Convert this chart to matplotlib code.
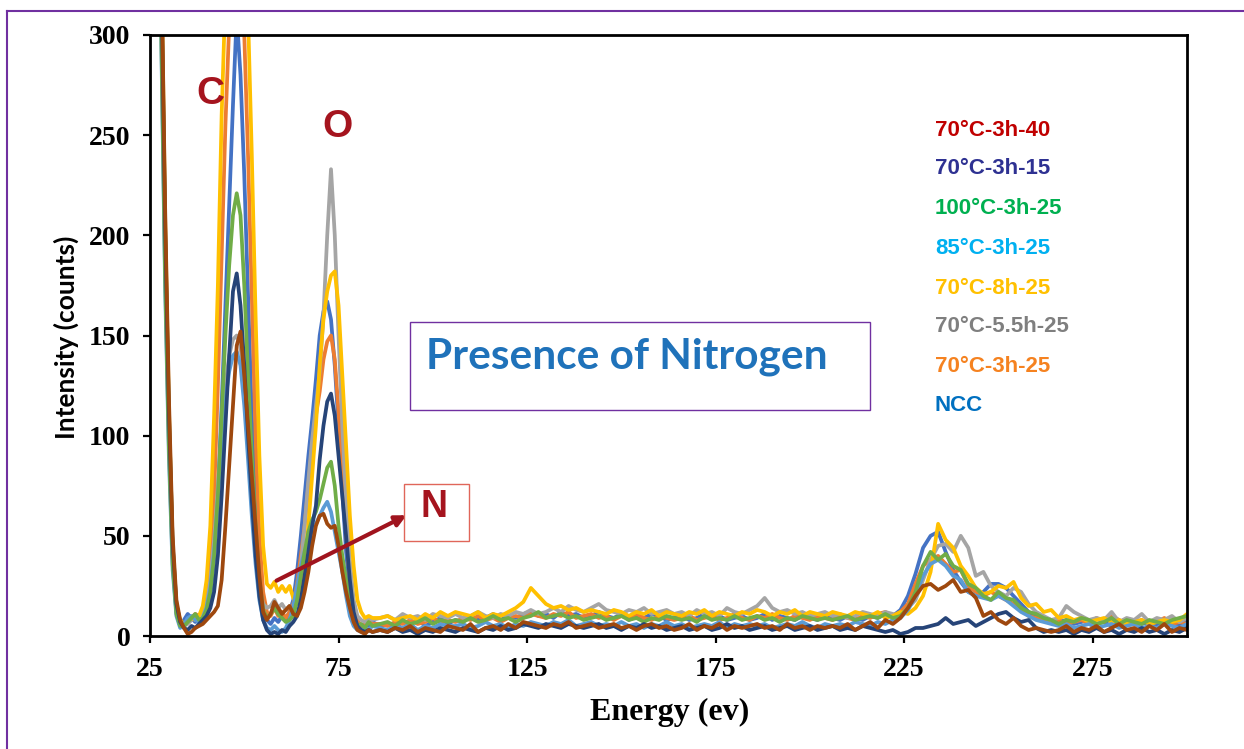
import numpy as np
import matplotlib
matplotlib.use('Agg')
import matplotlib.pyplot as plt
from matplotlib.patches import Rectangle
from matplotlib.lines import Line2D

#--------------------------------------------------------------------------------
# Du lieu doc tu hinh: nang luong (eV) va cuong do (counts)
# Doan 1: 26..84 eV, buoc 1 eV  (59 diem)
# Doan 2: 86..300 eV, buoc 2 eV (108 diem)
#--------------------------------------------------------------------------------
energy = np.concatenate([np.arange(26, 85), np.arange(86, 301, 2)])

ncc = [
    900, 620, 320, 200, 105, 40, 12, 5, 8, 11,
    9, 7, 8, 10, 12, 20, 38, 70, 115, 165,
    215, 265, 310, 280, 230, 170, 110, 60, 30, 14,
    8, 6, 9, 7, 10, 8, 12, 18, 32, 50,
    70, 90, 108, 128, 150, 162, 167, 158, 135, 105,
    72, 42, 22, 10, 5, 4, 6, 5, 7,
    5, 6, 4, 7, 6, 8, 5, 7, 9, 6,
    8, 7, 10, 8, 9, 11, 8, 10, 9, 11,
    12, 10, 11, 9, 12, 10, 11, 9, 10, 12,
    10, 9, 11, 8, 10, 9, 11, 10, 8, 9,
    10, 8, 9, 11, 9, 10, 8, 9, 10, 8,
    9, 11, 8, 10, 9, 8, 10, 9, 8, 10,
    9, 8, 10, 9, 8, 10, 9, 11, 10, 13,
    20, 31, 44, 50, 52, 42, 33, 27, 22, 20,
    22, 26, 26, 24, 20, 16, 12, 10, 9, 8,
    7, 8, 6, 7, 8, 6, 7, 5, 7, 6,
    8, 6, 7, 5, 6, 7, 5, 8]

t70_3h_25 = [
    880, 610, 320, 195, 105, 42, 14, 6, 5, 7,
    9, 11, 10, 12, 18, 35, 70, 125, 190, 255,
    305, 335, 345, 330, 300, 240, 170, 100, 50, 22,
    12, 10, 14, 10, 12, 9, 12, 16, 26, 40,
    55, 75, 95, 110, 122, 138, 147, 150, 138, 112,
    82, 52, 28, 14, 8, 5, 6, 7, 6,
    6, 5, 7, 6, 8, 6, 7, 9, 7, 8,
    7, 9, 8, 10, 8, 9, 7, 9, 10, 9,
    11, 10, 9, 11, 10, 12, 9, 10, 11, 9,
    10, 8, 10, 9, 11, 9, 8, 10, 9, 8,
    9, 10, 8, 9, 10, 8, 9, 11, 9, 8,
    10, 9, 11, 9, 8, 10, 9, 8, 10, 9,
    8, 10, 9, 8, 10, 9, 11, 12, 10, 12,
    16, 26, 35, 38, 40, 36, 32, 33, 25, 22,
    20, 22, 20, 18, 16, 14, 10, 9, 8, 7,
    8, 6, 7, 8, 6, 9, 7, 10, 8, 6,
    7, 8, 6, 7, 9, 6, 7, 6]

t70_55h_25 = [
    890, 620, 325, 200, 108, 42, 13, 6, 5, 6,
    8, 9, 8, 11, 16, 28, 48, 75, 100, 125,
    140, 148, 150, 145, 125, 95, 65, 40, 24, 16,
    14, 15, 18, 14, 16, 13, 15, 12, 20, 35,
    55, 78, 98, 115, 132, 160, 200, 233, 200, 150,
    105, 68, 38, 18, 10, 8, 7, 9, 8,
    9, 10, 8, 11, 9, 10, 8, 11, 10, 9,
    11, 9, 10, 12, 10, 9, 11, 10, 12, 11,
    13, 11, 12, 14, 12, 15, 13, 12, 14, 16,
    13, 12, 11, 13, 12, 14, 11, 12, 13, 11,
    12, 10, 13, 11, 12, 10, 14, 12, 11, 13,
    15, 19, 14, 12, 13, 11, 12, 10, 11, 12,
    10, 11, 9, 10, 12, 11, 10, 12, 11, 10,
    14, 18, 28, 38, 45, 46, 42, 50, 44, 30,
    32, 25, 22, 20, 24, 22, 16, 12, 10, 8,
    9, 15, 12, 10, 8, 9, 8, 12, 7, 9,
    8, 11, 7, 9, 8, 10, 7, 9]

t70_8h_25 = [
    900, 640, 340, 210, 115, 45, 15, 8, 6, 8,
    9, 8, 10, 15, 28, 55, 110, 175, 260, 320,
    370, 400, 410, 395, 360, 310, 240, 160, 90, 45,
    26, 24, 27, 22, 25, 22, 25, 19, 16, 20,
    35, 55, 80, 105, 135, 158, 172, 180, 182, 165,
    130, 95, 60, 35, 18, 12, 9, 10, 9,
    9, 10, 8, 9, 10, 8, 11, 9, 12, 10,
    12, 11, 10, 12, 9, 11, 10, 12, 14, 17,
    24, 20, 16, 14, 15, 13, 14, 12, 13, 12,
    11, 13, 12, 10, 12, 11, 13, 10, 12, 11,
    10, 12, 11, 13, 10, 12, 11, 10, 12, 11,
    13, 12, 10, 12, 11, 13, 10, 12, 11, 10,
    12, 11, 10, 12, 11, 10, 12, 9, 10, 12,
    11, 14, 20, 32, 56, 48, 44, 35, 30, 24,
    21, 22, 25, 24, 27, 19, 15, 16, 12, 13,
    9, 10, 8, 9, 7, 8, 9, 7, 8, 6,
    7, 8, 6, 7, 8, 7, 8, 11]

t85_3h_25 = [
    860, 580, 295, 175, 90, 33, 10, 4, 6, 9,
    10, 8, 7, 9, 14, 24, 42, 68, 95, 118,
    132, 140, 142, 135, 115, 88, 60, 36, 18, 8,
    4, 3, 5, 3, 2, 4, 8, 15, 25, 35,
    42, 48, 52, 56, 60, 64, 67, 62, 52, 42,
    32, 20, 10, 5, 3, 2, 4, 3, 5,
    4, 3, 5, 4, 6, 3, 5, 4, 6, 5,
    5, 6, 4, 5, 7, 5, 6, 4, 6, 5,
    7, 6, 5, 7, 6, 8, 5, 6, 7, 5,
    6, 5, 7, 5, 6, 4, 6, 5, 7, 5,
    6, 4, 5, 6, 5, 7, 4, 6, 5, 6,
    5, 6, 4, 5, 6, 5, 7, 5, 4, 6,
    5, 6, 5, 7, 6, 5, 7, 6, 8, 9,
    13, 20, 30, 36, 38, 35, 30, 28, 22, 20,
    19, 18, 20, 18, 15, 12, 10, 8, 7, 6,
    5, 6, 4, 5, 6, 4, 5, 6, 4, 5,
    6, 4, 5, 4, 6, 5, 4, 6]

t100_3h_25 = [
    870, 590, 300, 180, 95, 36, 11, 5, 5, 7,
    9, 11, 8, 9, 13, 22, 40, 70, 110, 150,
    185, 210, 221, 210, 175, 130, 90, 55, 28, 13,
    9, 11, 14, 11, 9, 7, 8, 10, 18, 30,
    42, 52, 58, 62, 68, 76, 84, 87, 75, 55,
    40, 28, 15, 8, 5, 6, 4, 7, 5,
    6, 7, 5, 8, 6, 7, 9, 6, 8, 7,
    8, 7, 9, 7, 8, 10, 8, 9, 7, 9,
    10, 12, 9, 10, 11, 9, 10, 8, 9, 10,
    8, 9, 10, 8, 9, 7, 9, 8, 10, 9,
    8, 9, 7, 10, 8, 9, 8, 10, 8, 9,
    10, 8, 9, 7, 9, 8, 10, 9, 8, 9,
    8, 9, 10, 8, 9, 10, 9, 11, 9, 10,
    14, 22, 35, 42, 38, 41, 35, 33, 26, 24,
    20, 18, 22, 19, 18, 14, 12, 11, 9, 8,
    6, 8, 7, 9, 8, 6, 7, 9, 6, 8,
    7, 6, 8, 7, 6, 8, 9, 10]

t70_3h_15 = [
    880, 610, 330, 205, 112, 46, 16, 7, 4, 3,
    5, 4, 6, 8, 10, 14, 22, 40, 70, 105,
    140, 172, 181, 165, 135, 100, 68, 40, 20, 8,
    3, 1, 2, 1, 3, 2, 5, 7, 10, 18,
    30, 42, 55, 65, 88, 105, 117, 121, 110, 90,
    70, 50, 28, 12, 5, 3, 2, 3, 2,
    3, 2, 4, 2, 3, 1, 3, 2, 4, 3,
    2, 4, 3, 2, 4, 3, 5, 3, 4, 6,
    5, 4, 6, 5, 4, 6, 5, 4, 5, 6,
    4, 5, 3, 5, 4, 6, 4, 5, 3, 4,
    5, 3, 4, 5, 3, 4, 6, 4, 5, 3,
    4, 5, 3, 4, 5, 3, 4, 5, 3, 4,
    5, 3, 4, 3, 5, 4, 3, 2, 3, 1,
    2, 4, 4, 5, 6, 9, 6, 7, 8, 5,
    7, 9, 11, 12, 9, 7, 8, 4, 2, 3,
    2, 3, 1, 3, 2, 4, 2, 3, 1, 3,
    2, 4, 2, 3, 1, 3, 2, 4]

t70_3h_40 = [
    870, 600, 340, 215, 120, 50, 18, 8, 4, 1,
    2, 4, 5, 6, 8, 10, 12, 15, 28, 55,
    85, 115, 145, 152, 130, 105, 80, 55, 30, 12,
    8, 11, 17, 14, 11, 13, 15, 11, 10, 14,
    22, 32, 45, 55, 60, 61, 56, 54, 55, 45,
    32, 22, 14, 7, 3, 2, 1, 3, 2,
    3, 2, 4, 3, 5, 2, 4, 3, 2, 5,
    4, 3, 6, 2, 4, 5, 3, 6, 4, 7,
    6, 5, 4, 6, 5, 7, 4, 5, 6, 4,
    5, 6, 4, 5, 3, 5, 6, 4, 5, 3,
    4, 6, 3, 5, 4, 6, 3, 5, 4, 5,
    6, 4, 5, 3, 6, 4, 5, 3, 5, 4,
    5, 4, 6, 3, 5, 7, 4, 8, 6, 9,
    14, 20, 25, 26, 23, 25, 28, 22, 23, 19,
    10, 12, 8, 6, 9, 5, 3, 4, 3, 2,
    3, 5, 2, 4, 3, 5, 2, 4, 6, 3,
    4, 2, 5, 3, 6, 2, 4, 3]

# thu tu ve giong Excel (NCC ve truoc, 70°C-3h-40 ve sau cung)
series = [ncc, t70_3h_25, t70_55h_25, t70_8h_25, t85_3h_25, t100_3h_25, t70_3h_15, t70_3h_40]
line_colors = ['#4472C4', '#ED7D31', '#A5A5A5', '#FFC000', '#5B9BD5', '#70AD47', '#264478', '#9E480E']

# chu chu thich (tu tren xuong)
legend_labels = ['70°C-3h-40', '70°C-3h-15', '100°C-3h-25', '85°C-3h-25',
                 '70°C-8h-25', '70°C-5.5h-25', '70°C-3h-25', 'NCC']
legend_colors = ['#C00000', '#2E3192', '#00B050', '#00B0F0',
                 '#FFC000', '#7F7F7F', '#F58220', '#0070C0']

x_ticks = [25, 75, 125, 175, 225, 275]
y_ticks = [0, 50, 100, 150, 200, 250, 300]

#--------------------------------------------------------------------------------
# Ve bieu do
#--------------------------------------------------------------------------------
W, H = 1244, 749
fig = plt.figure(figsize=(W / 100, H / 100), dpi=100)
ax = fig.add_axes([150 / W, 1 - 636 / H, (1187 - 150) / W, (636 - 35) / H])

for y, c in zip(series, line_colors):
    ax.plot(energy, y, color=c, lw=2.7, solid_joinstyle='round')

ax.set_xlim(25, 300)
ax.set_ylim(0, 300)
ax.set_xticks(x_ticks)
ax.set_yticks(y_ticks)
for s in ax.spines.values():
    s.set_linewidth(2.0)
ax.tick_params(direction='out', length=5, width=1.6)
ax.tick_params(axis='x', pad=10)
ax.tick_params(axis='y', pad=9)
for lb in ax.get_xticklabels() + ax.get_yticklabels():
    lb.set_fontfamily('Liberation Serif')
    lb.set_fontweight('bold')
    lb.set_fontsize(20)

fig.text(670 / W, 1 - 712 / H, 'Energy (ev)', fontfamily='Liberation Serif',
         fontweight='bold', fontsize=23, ha='center', va='center')
fig.text(66 / W, 1 - 337 / H, 'Intensity (counts)', fontfamily='Lato', fontweight='bold',
         fontsize=19, rotation=90, ha='center', va='center')

# nhan dinh C, O
red = '#A5141E'
fig.text(210 / W, 1 - 94 / H, 'C', color=red, fontsize=28, fontweight='bold',
         fontfamily='Liberation Sans', ha='center', va='center')
fig.text(337 / W, 1 - 127 / H, 'O', color=red, fontsize=28, fontweight='bold',
         fontfamily='Liberation Sans', ha='center', va='center')

# chu thich mau
legend_y = [130, 169, 209, 248, 289, 327, 367, 406]
for lab, c, yy in zip(legend_labels, legend_colors, legend_y):
    fig.text(935 / W, 1 - yy / H, lab, color=c, fontsize=16, fontweight='bold',
             fontfamily='Liberation Sans', ha='left', va='center')

# khung "Presence of Nitrogen"
fig.add_artist(Rectangle((410 / W, 1 - 410 / H), 460 / W, 88 / H, transform=fig.transFigure,
                         fill=False, edgecolor='#7030A0', lw=1.0))
fig.text(627 / W, 1 - 357 / H, 'Presence of Nitrogen', color='#1F72BA', fontsize=30.5,
         fontweight='bold', fontfamily='Lato', ha='center', va='center')

# khung N va mui ten
fig.add_artist(Rectangle((404 / W, 1 - 541 / H), 65 / W, 57 / H, transform=fig.transFigure,
                         fill=False, edgecolor='#E0665A', lw=1.0))
fig.text(434 / W, 1 - 507 / H, 'N', color=red, fontsize=27, fontweight='bold',
         fontfamily='Liberation Sans', ha='center', va='center')
ax.annotate('', xy=(93.7, 60.9), xytext=(57.9, 27),
            arrowprops=dict(arrowstyle='-|>', color='#A0141E', lw=3, mutation_scale=16))

# vien tim ben ngoai
fig.add_artist(Line2D([7 / W, 7 / W], [0, 1 - 11 / H], color='#7030A0', lw=1.5))
fig.add_artist(Line2D([7 / W, 1], [1 - 11 / H, 1 - 11 / H], color='#7030A0', lw=1.5))

fig.savefig('out.png', dpi=100)
